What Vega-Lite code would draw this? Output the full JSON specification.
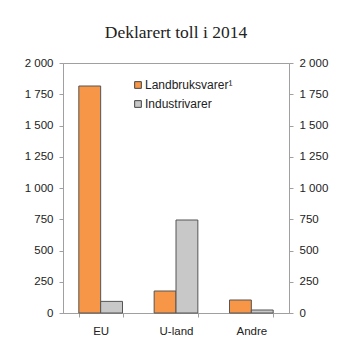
{
  "$schema": "https://vega.github.io/schema/vega-lite/v6.json",
  "autosize": "none",
  "width": 226,
  "height": 250,
  "padding": {"left": 63, "top": 63, "right": 64, "bottom": 40},
  "background": "white",
  "title": {"text": "Deklarert toll i 2014", "font": "Liberation Serif", "fontSize": 17.5, "fontWeight": "normal", "color": "#222", "offset": 16, "anchor": "middle"},
  "config": {"view": {"stroke": "#a0a0a0", "strokeWidth": 1}},
  "data": {"values": [
    {"region": "EU", "serie": "Landbruksvarer¹", "verdi": 1816},
    {"region": "EU", "serie": "Industrivarer", "verdi": 93},
    {"region": "U-land", "serie": "Landbruksvarer¹", "verdi": 176},
    {"region": "U-land", "serie": "Industrivarer", "verdi": 744},
    {"region": "Andre", "serie": "Landbruksvarer¹", "verdi": 104},
    {"region": "Andre", "serie": "Industrivarer", "verdi": 24}
  ]},
  "encoding": {
    "x": {"field": "region", "type": "nominal", "sort": ["EU", "U-land", "Andre"],
      "scale": {"paddingInner": 0.42, "paddingOuter": 0.21},
      "axis": {"title": null, "labelAngle": 0, "labelFont": "Liberation Sans", "labelFontSize": 11.5, "labelColor": "#222", "domainColor": "#a0a0a0", "tickColor": "#a0a0a0", "tickBand": "extent", "tickSize": 4, "labelPadding": 8}},
    "xOffset": {"field": "serie", "sort": ["Landbruksvarer¹", "Industrivarer"]},
    "color": {"field": "serie", "type": "nominal", "sort": ["Landbruksvarer¹", "Industrivarer"],
      "scale": {"domain": ["Landbruksvarer¹", "Industrivarer"], "range": ["#F79646", "#C8C8C8"]},
      "legend": {"title": null, "orient": "none", "legendX": 69, "legendY": 16, "symbolType": "square", "symbolSize": 45, "symbolStrokeColor": "#444", "symbolStrokeWidth": 1, "labelFont": "Liberation Sans", "labelFontSize": 12, "labelColor": "#222", "rowPadding": 7, "labelOffset": 1}}
  },
  "layer": [
    {
      "mark": {"type": "bar", "stroke": "#555", "strokeWidth": 1},
      "encoding": {
        "y": {"field": "verdi", "type": "quantitative", "scale": {"domain": [0, 2000]},
          "axis": {"title": null, "orient": "left", "values": [0, 250, 500, 750, 1000, 1250, 1500, 1750, 2000], "labelExpr": "replace(format(datum.value, ',d'), ',', ' ')", "grid": false, "labelFont": "Liberation Sans", "labelFontSize": 11.5, "labelColor": "#222", "domainColor": "#a0a0a0", "tickColor": "#a0a0a0", "tickSize": 4, "labelPadding": 6}}
      }
    },
    {
      "mark": {"type": "bar", "opacity": 0},
      "encoding": {
        "y": {"field": "verdi", "type": "quantitative", "scale": {"domain": [0, 2000]},
          "axis": {"title": null, "orient": "right", "values": [0, 250, 500, 750, 1000, 1250, 1500, 1750, 2000], "labelExpr": "replace(format(datum.value, ',d'), ',', ' ')", "grid": false, "labelFont": "Liberation Sans", "labelFontSize": 11.5, "labelColor": "#222", "domainColor": "#a0a0a0", "tickColor": "#a0a0a0", "tickSize": 4, "labelPadding": 6}}
      }
    }
  ],
  "resolve": {"axis": {"y": "independent"}}
}
